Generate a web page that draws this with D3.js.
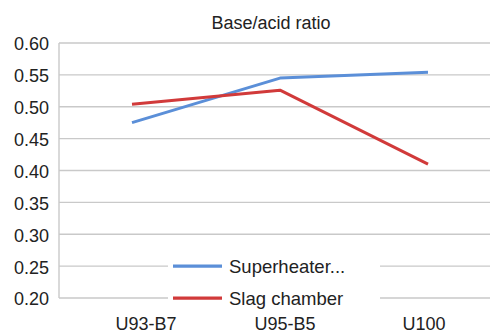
<!DOCTYPE html>
<html>
<head>
<meta charset="utf-8">
<script src="https://cdn.jsdelivr.net/npm/d3@7/dist/d3.min.js"></script>
<style>
  html, body { margin: 0; padding: 0; background: #fff; }
  svg { display: block; font-family: "Liberation Sans", Arial, sans-serif; }
</style>
</head>
<body>
<svg id="chart" width="490" height="334"></svg>
<script>
// Base/acid ratio per unit
const categories = ["U93-B7", "U95-B5", "U100"];
const superheater = [0.475, 0.545, 0.554];
const slagChamber = [0.504, 0.526, 0.410];
const yTicks = [0.20, 0.25, 0.30, 0.35, 0.40, 0.45, 0.50, 0.55, 0.60];
const seriesNames = ["Superheater...", "Slag chamber"];
const seriesColors = ["#5b8fd8", "#d13a3a"];

const svg = d3.select("#chart");
const margin = { left: 59, top: 43, bottom: 298 };

// points for the series and a slightly narrower spread for the category labels
const x = d3.scalePoint().domain(categories).range([132, 428]);
const xLabel = d3.scalePoint().domain(categories).range([146, 424]);
const y = d3.scaleLinear().domain([0.20, 0.60]).range([margin.bottom, margin.top]);

// horizontal gridlines
svg.append("g")
  .selectAll("line")
  .data(yTicks)
  .join("line")
  .attr("x1", margin.left).attr("x2", 490)
  .attr("y1", d => y(d)).attr("y2", d => y(d))
  .attr("stroke", "#c9c9c9").attr("stroke-width", 1.4);

// left axis line
svg.append("line")
  .attr("x1", margin.left).attr("x2", margin.left)
  .attr("y1", y(0.60)).attr("y2", y(0.20))
  .attr("stroke", "#c9c9c9").attr("stroke-width", 1.4);

// y tick labels
svg.append("g")
  .selectAll("text")
  .data(yTicks)
  .join("text")
  .attr("x", 49).attr("y", d => y(d) + 1)
  .attr("dy", "0.36em")
  .attr("text-anchor", "end")
  .attr("font-size", 18)
  .attr("fill", "#222")
  .text(d => d.toFixed(2));

// x category labels
svg.append("g")
  .selectAll("text")
  .data(categories)
  .join("text")
  .attr("x", d => xLabel(d)).attr("y", 330)
  .attr("text-anchor", "middle")
  .attr("font-size", 18)
  .attr("fill", "#222")
  .text(d => d);

// title
svg.append("text")
  .attr("x", 271).attr("y", 29)
  .attr("text-anchor", "middle")
  .attr("font-size", 18)
  .attr("fill", "#222")
  .text("Base/acid ratio");

// series lines
const line = d3.line().x((d, i) => x(categories[i])).y(d => y(d));
[superheater, slagChamber].forEach((vals, i) => {
  svg.append("path")
    .datum(vals)
    .attr("d", line)
    .attr("fill", "none")
    .attr("stroke", seriesColors[i])
    .attr("stroke-width", 3)
    .attr("stroke-linejoin", "round");
});

// legend with white background over the gridlines
const legend = svg.append("g");
legend.append("rect")
  .attr("x", 168).attr("y", 252)
  .attr("width", 212).attr("height", 58)
  .attr("fill", "#fff");
seriesNames.forEach((name, i) => {
  const ly = y(0.25) + i * 32;
  legend.append("line")
    .attr("x1", 173).attr("x2", 222)
    .attr("y1", ly).attr("y2", ly)
    .attr("stroke", seriesColors[i]).attr("stroke-width", 3.2);
  legend.append("text")
    .attr("x", 229).attr("y", ly)
    .attr("dy", "0.36em")
    .attr("font-size", 18.5)
    .attr("fill", "#222")
    .text(name);
});
</script>
</body>
</html>
